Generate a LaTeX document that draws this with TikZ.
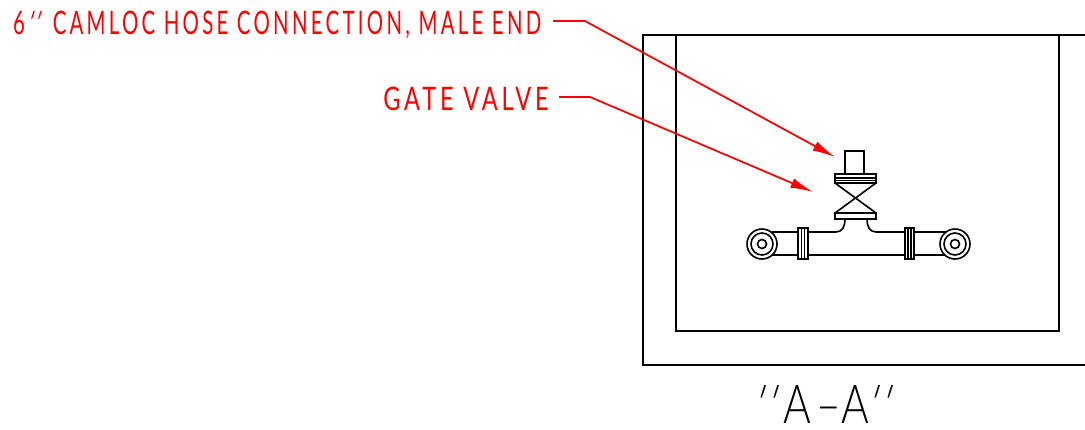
\documentclass[tikz,border=0pt]{standalone}
\usepackage{fontspec}
\usepackage{graphicx}
\usetikzlibrary{arrows.meta,calc}
\setmainfont{Lato}[FakeStretch=0.62,LetterSpace=10]
\newfontfamily\qf{Lato}[FakeStretch=0.62,FakeSlant=0.3]
\newfontfamily\tf{Lato Light}[FakeStretch=0.75]
\newfontfamily\tq{Lato Light}[FakeStretch=0.75,FakeSlant=0.3]
\definecolor{lbl}{RGB}{255,0,0}
\newcommand{\qq}{{\qf'\kern0.09em'}}
\newcommand{\tqq}{{\tq'\kern0.08em'}}
\tikzset{
  ln/.style={line width=1.2pt,black},
  leader/.style={line width=1.3pt,lbl,-{Latex[length=17pt,width=7.5pt]}},
  note/.style={text=lbl,inner sep=0pt,anchor=base east,font=\fontsize{26}{26}\selectfont},
  title/.style={text=black,inner sep=0pt,anchor=base west,font=\fontsize{39}{39}\selectfont}
}
\begin{document}
\begin{tikzpicture}[x=0.75pt,y=-0.75pt]
\useasboundingbox (0,0) rectangle (1085,429);
% frames
\draw[ln] (1085,35) -- (643,35) -- (643,365) -- (1085,365);
\draw[ln] (676,35) -- (676,331) -- (1059,331) -- (1059,35);
% top rectangle
\draw[ln] (845,174) -- (845,151) -- (864,151) -- (864,174);
% flanges
\draw[ln] (835,174) rectangle (876,183);
\draw[ln] (835,178) -- (876,178);
\draw[ln] (835,180.5) -- (876,180.5);
\draw[ln] (835,213) rectangle (876,219);
\draw[ln] (835,183) -- (876,213);
\draw[ln] (876,183) -- (835,213);
% pipe
\draw[ln] (772,232) -- (798,232);
\draw[ln] (808,232) -- (836,232) .. controls (842,232) and (845,227) .. (845,219);
\draw[ln] (867,219) .. controls (867,227) and (870,232) .. (876,232) -- (905,232);
\draw[ln] (914,232) -- (946,232);
\draw[ln] (772,255) -- (798,255);
\draw[ln] (808,255) -- (905,255);
\draw[ln] (914,255) -- (945,255);
\draw[ln] (798,228) rectangle (808,259);
\draw[ln] (801.5,228) -- (801.5,259);
\draw[ln] (804.5,228) -- (804.5,259);
\draw[ln] (905,228) rectangle (914,259);
\draw[ln] (908,228) -- (908,259);
\draw[ln] (911,228) -- (911,259);
\foreach \c in {762,955}{
  \draw[ln] (\c,244) circle[radius=15];
  \draw[ln] (\c,244) circle[radius=11];
  \draw[ln] (\c,244) circle[radius=4.5];
}
% labels
\node[note] (camloc) at (541.5,34.5) {\resizebox{396pt}{17.6pt}{6\qq\kern0.5em CAMLOC HOSE CONNECTION, MALE END}};
\node[note] (gate) at (549,110) {\resizebox{124pt}{17.6pt}{GATE VALVE}};
\node[title] (aa) at (749,423) {\resizebox{93pt}{28.5pt}{\tf\tqq\kern0.24em A\kern0.09em–\kern0.0em A\kern-0.1em\tqq\kern-0.2em}};
% leaders
\coordinate (s1) at (553,21); \coordinate (k1) at (585,21); \coordinate (t1) at (835,157);
\coordinate (s2) at (559,97); \coordinate (k2) at (590,97); \coordinate (t2) at (813,192);
\draw[leader] (s1) -- (k1) -- (t1);
\draw[leader] (s2) -- (k2) -- (t2);
\end{tikzpicture}
\end{document}
